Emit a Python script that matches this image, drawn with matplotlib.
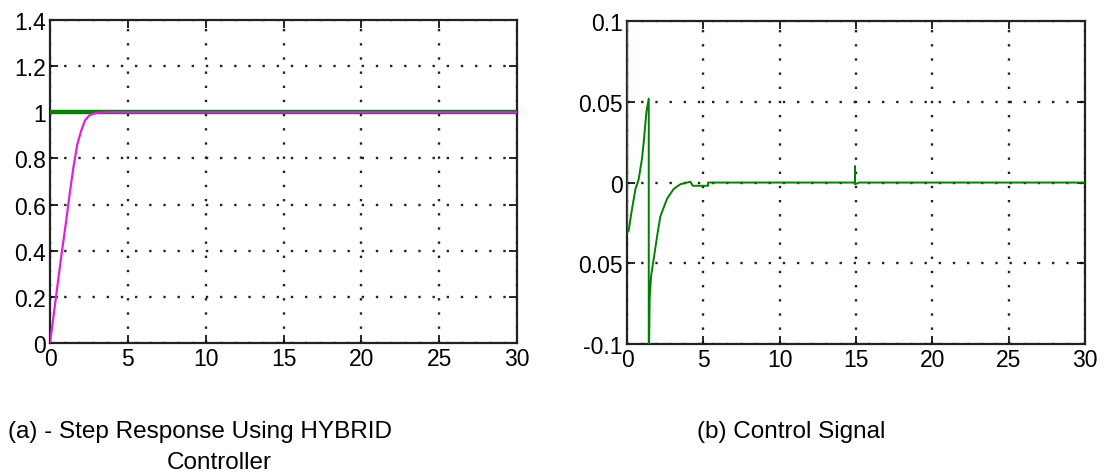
import matplotlib.pyplot as plt

plt.rcParams['font.family'] = ['Liberation Sans', 'DejaVu Sans']

# (a) step response
t_ref = [0, 30]
ref = [1, 1]
t_resp = [0, 0.25, 0.5, 0.75, 1.0, 1.25, 1.5, 1.75, 2.0, 2.25, 2.5, 2.75, 3.0, 3.5, 4.0, 30]
resp = [0, 0.13, 0.26, 0.39, 0.51, 0.64, 0.76, 0.86, 0.92, 0.965, 0.985, 0.993, 0.998, 1.0, 1.0, 1.0]

# (b) control signal
t_u = [0, 0, 0, 0.1, 0.33, 0.55, 0.76, 0.98, 1.09, 1.27, 1.42, 1.42, 1.48, 1.57, 1.75,
       1.97, 2.18, 2.62, 3.05, 3.5, 4.15, 4.3, 5.3, 5.3, 14.93, 14.93, 14.93, 15.2, 30]
u = [0, 0.1, -0.031, -0.03, -0.016, -0.004, 0.002, 0.015, 0.025, 0.044, 0.052, -0.12, -0.072,
     -0.058, -0.047, -0.033, -0.021, -0.010, -0.004, -0.001, 0.0005, -0.002, -0.002, 0.0,
     0.0, 0.010, -0.001, 0.0, 0.0]

xticks = [0, 5, 10, 15, 20, 25, 30]
yticks_a = [0, 0.2, 0.4, 0.6, 0.8, 1.0, 1.2, 1.4]
ylabels_a = ['0', '0.2', '0.4', '0.6', '0.8', '1', '1.2', '1.4']
yticks_b = [-0.1, -0.05, 0, 0.05, 0.1]
ylabels_b = ['-0.1', '0.05', '0', '0.05', '0.1']

fig = plt.figure(figsize=(11.04, 4.77), dpi=100)
ax1 = fig.add_axes([0.0453, 0.2788, 0.423, 0.677])
ax2 = fig.add_axes([0.568, 0.2767, 0.4149, 0.677])

ax1.plot(t_ref, ref, color='#007f00', lw=3.2, zorder=3)
ax1.plot(t_resp, resp, color='#e020e0', lw=1.6, zorder=3)
ax1.set_xlim(0, 30)
ax1.set_ylim(0, 1.4)
ax1.set_yticks(yticks_a)
ax1.set_yticklabels(ylabels_a)

ax2.plot(t_u, u, color='#008000', lw=1.4, zorder=3)
ax2.set_xlim(0, 30)
ax2.set_ylim(-0.1, 0.1)
ax2.set_yticks(yticks_b)
ax2.set_yticklabels(ylabels_b)

for ax in (ax1, ax2):
    ax.set_xticks(xticks)
    ax.grid(True, color='#222222', linestyle=(0, (1, 5)), lw=1.7)
    ax.tick_params(direction='in', length=6, width=1.2, labelsize=16.5,
                   top=True, right=True, colors='black', pad=3)
    for s in ax.spines.values():
        s.set_linewidth(1.6)
        s.set_color('#222222')

fig.text(0.007, 0.095, '(a) - Step Response Using HYBRID', fontsize=17.5, va='center', ha='left')
fig.text(0.199, 0.03, 'Controller', fontsize=17.5, va='center', ha='center')
fig.text(0.631, 0.095, '(b) Control Signal', fontsize=17.5, va='center', ha='left')

fig.savefig('out.png', dpi=100)
